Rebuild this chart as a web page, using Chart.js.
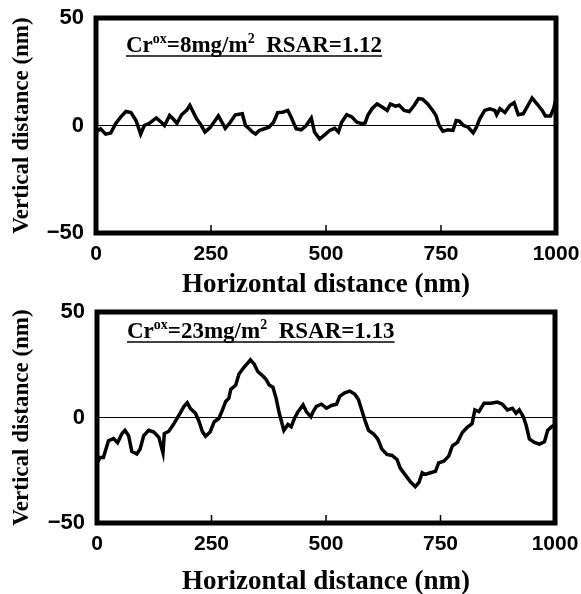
<!DOCTYPE html>
<html>
<head>
<meta charset="utf-8">
<script src="https://cdn.jsdelivr.net/npm/chart.js@4"></script>
<style>
  body { margin: 0; background: #fff; }
  canvas { display: block; }
</style>
</head>
<body>
<canvas id="topChart" width="581" height="297"></canvas>
<canvas id="bottomChart" width="581" height="297"></canvas>
<script>
// surface profiles (nm)
const xTicks = [0, 250, 500, 750, 1000];
const yTicks = [-50, 0, 50];

const topX = [0,10,21,32,43,54,65,76,87,97,105,116,131,142,149,160,168,176,186,197,
  204,212,219,226,237,248,259,266,274,281,292,303,318,325,333,340,347,355,366,376,
  386,395,406,417,424,435,446,457,468,475,486,497,508,519,527,534,545,556,567,578,
  585,591,600,611,622,633,640,651,659,670,681,692,701,710,721,732,739,746,754,765,
  776,783,790,799,809,820,827,834,845,856,867,871,878,889,900,909,918,929,937,948,
  959,970,977,988,995,1000];
const topY = [-3,-1.5,-4,-3.5,1,4,6.5,6,2.3,-4,0,1,3.5,1.5,0,4.7,3,1,5,7,
  9.4,6,3,1,-3,-1,2.3,4.5,1.5,-1.3,1.5,5,5.5,0,-1.5,-3,-4,-2.3,-1.5,-0.8,
  1.5,6,6.2,7,4,-1.5,-2,0,3.5,-3,-6.3,-4.4,-2.3,-1.3,-3,1.5,5,4,1.5,0.8,
  1.2,4.7,7.8,10,8.6,7,10,9,9.4,7,6.5,9.4,12.5,12.2,10,7,4.7,0,-2.7,-2,
  -2.3,2.3,2,0,-0.8,-3.4,-0.8,3,7,7.8,7,5,7.8,6,9.4,10.6,5,5.5,8.6,12.8,
  10,7,4.4,4.4,8,12.5];

const bottomX = [0,7,14,25,36,45,54,61,69,76,87,94,102,113,124,135,144,147,157,168,
  179,190,197,204,215,223,230,237,247,256,266,274,281,288,292,303,310,321,335,343,
  351,362,369,376,384,391,398,408,417,424,431,439,450,457,467,472,479,490,501,512,
  523,530,541,552,563,571,578,586,593,604,613,622,633,644,655,662,673,684,695,703,
  710,717,728,739,746,757,768,776,787,798,809,819,825,834,845,860,874,885,896,907,
  915,922,931,937,944,955,966,977,984,992,1000];
const bottomY = [-21.5,-19,-19,-11,-10,-12,-7.8,-6.1,-8.6,-16,-17.3,-15,-8.6,-6.1,-6.9,-9.4,-16.7,-7.6,-6.5,-2.9,
  1.1,5.3,7,4.2,2,-2,-6.6,-8.9,-6.9,-2,-0.5,3.6,7.6,9.2,13.3,15.4,20.6,23.8,27.3,25.4,
  21.8,19.7,18.1,15.4,14.4,9.2,2,-6.1,-3.3,-4.4,-0.5,2.8,6,2.8,0.3,2.8,5.3,6.3,4.4,5.7,
  6.3,10,11.7,12.5,11,8.4,3.6,-2,-6.1,-7.8,-10.2,-15,-17.5,-18,-19.9,-24,-27.2,-30.4,-32.8,-30.8,
  -26.2,-27,-26.2,-25.5,-21.5,-20.7,-18.3,-13.4,-11.8,-7,-4.5,-2.9,3.6,2.8,6.8,6.8,7.3,6.3,3.6,4.4,
  2,3.6,0.3,-3.7,-10.2,-11.8,-12.6,-11.5,-6.1,-4.5,-3.4];

// [text, superscript?]
const topNote = [['Cr', 0], ['ox', 1], ['=8mg/m', 0], ['2', 1], ['  RSAR=1.12', 0]];
const bottomNote = [['Cr', 0], ['ox', 1], ['=23mg/m', 0], ['2', 1], ['  RSAR=1.13', 0]];

const serif = "'Liberation Serif', 'Times New Roman', serif";
const sans = "'Liberation Sans', Arial, sans-serif";

const framePlugin = {
  id: 'frame',
  beforeDatasetsDraw(chart) {
    const { ctx, chartArea: a, scales: { y } } = chart;
    const y0 = y.getPixelForValue(0);
    ctx.save();
    ctx.strokeStyle = '#000';
    ctx.lineWidth = 1.2;
    ctx.beginPath();
    ctx.moveTo(a.left, y0);
    ctx.lineTo(a.right, y0);
    ctx.stroke();
    ctx.restore();
  },
  afterDatasetsDraw(chart, args, opts) {
    const { ctx, chartArea: a, scales: { x } } = chart;
    ctx.save();
    ctx.strokeStyle = '#000';
    ctx.lineWidth = 5;
    ctx.strokeRect(a.left, a.top, a.right - a.left, a.bottom - a.top);
    // small inward ticks on the bottom edge
    ctx.lineWidth = 1.5;
    xTicks.slice(1, -1).forEach(v => {
      const px = x.getPixelForValue(v);
      ctx.beginPath();
      ctx.moveTo(px, a.bottom);
      ctx.lineTo(px, a.bottom - 8);
      ctx.stroke();
    });
    // annotation
    let cx = a.left + opts.dx;
    const base = a.top + opts.dy;
    ctx.fillStyle = '#000';
    ctx.textBaseline = 'alphabetic';
    opts.note.forEach(([t, sup]) => {
      ctx.font = sup ? 'bold 14px ' + serif : 'bold 23px ' + serif;
      ctx.fillText(t, cx, sup ? base - 9 : base);
      cx += ctx.measureText(t).width;
    });
    ctx.lineWidth = 1.5;
    ctx.beginPath();
    ctx.moveTo(a.left + opts.dx, base + 4);
    ctx.lineTo(cx, base + 4);
    ctx.stroke();
    ctx.restore();
  }
};

function makeChart(id, xs, ys, note, box) {
  const H = 297;
  return new Chart(document.getElementById(id), {
    type: 'line',
    data: {
      datasets: [{
        data: xs.map((v, i) => ({ x: v, y: ys[i] })),
        borderColor: '#000',
        borderWidth: 3.5,
        pointRadius: 0,
        tension: 0,
        fill: false
      }]
    },
    options: {
      responsive: false,
      animation: false,
      layout: { padding: { top: box.top, right: 581 - box.right, left: 0, bottom: 0 } },
      plugins: {
        legend: { display: false },
        tooltip: { enabled: false },
        frame: { note: note, dx: 30, dy: box.noteY }
      },
      scales: {
        x: {
          type: 'linear',
          min: 0,
          max: 1000,
          afterBuildTicks: s => { s.ticks = xTicks.map(v => ({ value: v })); },
          afterFit: s => { s.height = H - box.bottom; s.paddingLeft = 0; s.paddingRight = 0; },
          grid: { display: false, drawTicks: false, tickLength: 0 },
          border: { display: false },
          ticks: {
            color: '#000', padding: 9, maxRotation: 0,
            font: { family: sans, size: 21, weight: 'bold' },
            callback: v => String(v)
          },
          title: { display: true, text: 'Horizontal distance (nm)', color: '#000', padding: { top: 0, bottom: -4 }, font: { family: serif, size: 27, weight: 'bold' } }
        },
        y: {
          min: -50,
          max: 50,
          afterBuildTicks: s => { s.ticks = yTicks.map(v => ({ value: v })); },
          afterFit: s => { s.width = box.left; s.paddingTop = 0; s.paddingBottom = 0; },
          grid: { display: false, drawTicks: false, tickLength: 0 },
          border: { display: false },
          ticks: {
            color: '#000', padding: 12,
            font: { family: sans, size: 22, weight: 'bold' },
            callback: v => v < 0 ? '\u2212' + Math.abs(v) : String(v)
          },
          title: { display: true, text: 'Vertical distance (nm)', color: '#000', padding: { top: 8, bottom: 0 }, font: { family: serif, size: 23, weight: 'bold' } }
        }
      }
    },
    plugins: [framePlugin]
  });
}

makeChart('topChart', topX, topY, topNote, { left: 96, right: 556, top: 18, bottom: 233, noteY: 34 });
makeChart('bottomChart', bottomX, bottomY, bottomNote, { left: 97, right: 555, top: 15, bottom: 226, noteY: 26 });
</script>
</body>
</html>
